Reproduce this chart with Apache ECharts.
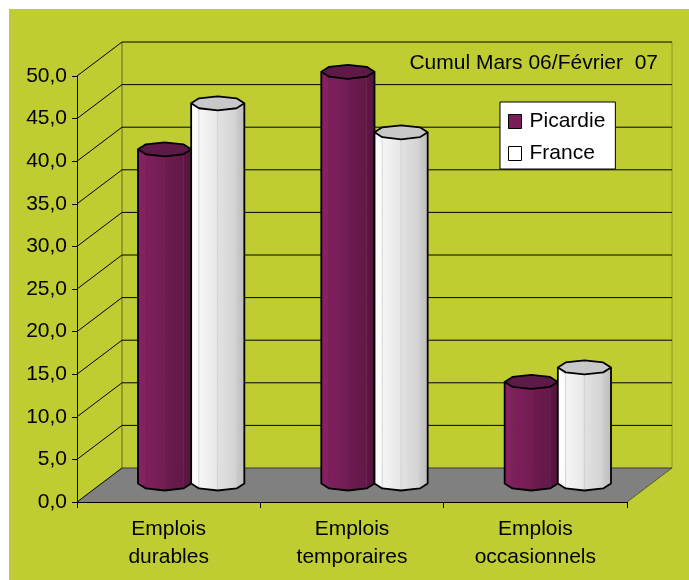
<!DOCTYPE html>
<html>
<head>
<meta charset="utf-8">
<script src="https://cdn.jsdelivr.net/npm/echarts@6/dist/echarts.min.js"></script>
<style>
html,body{margin:0;padding:0;background:#fff;}
#chart{width:689px;height:580px;}
</style>
</head>
<body>
<div id="chart"></div>
<script>
const categories = ['Emplois\ndurables', 'Emplois\ntemporaires', 'Emplois\noccasionnels'];
const seriesNames = ['Picardie', 'France'];
const picardie = [39.4, 48.5, 12.1];
const france = [44.8, 41.4, 13.8];
const yTickValues = [0, 5, 10, 15, 20, 25, 30, 35, 40, 45, 50];
const titleText = 'Cumul Mars 06/Février  07';

const FONT = "'Liberation Sans', Arial, sans-serif";
const DX = 45, DY = -34;   // depth of the 3D box
const BG = '#bfcd32';

const palettes = {
  Picardie: {
    faces: [['#8a2263', '#82205e'], ['#7e1f5b', '#731c54'], ['#6e1b51', '#641849'], ['#5e1644', '#56143e']],
    top: '#5e1a47',
    line: '#6a2450'
  },
  France: {
    faces: [['#ffffff', '#fbfbfb'], ['#f6f6f6', '#e6e6e6'], ['#e2e2e2', '#d2d2d2'], ['#cccccc', '#bdbdbd']],
    top: '#c8c8c8',
    line: '#d0d0d0'
  }
};

function makeBarRenderer(sign, pal) {
  return function (params, api) {
    const cat = api.value(0), val = api.value(1);
    const band = api.size([1, 0])[0];
    const r = band * 0.145;
    const ry = 7;
    const base = api.coord([cat, 0]);
    const top = api.coord([cat, val]);
    const cx = base[0] + DX * 0.5 + sign * r;
    const by = base[1] + DY * 0.5 - 1.5;
    const ty = top[1] + DY * 0.5;
    const pt = (t, y) => [cx - r * Math.cos(t), y + ry * Math.sin(t)];
    const children = [];
    for (let k = 0; k < 4; k++) {
      const t0 = k * Math.PI / 4, t1 = (k + 1) * Math.PI / 4;
      children.push({
        type: 'polygon',
        shape: { points: [pt(t0, ty), pt(t1, ty), pt(t1, by), pt(t0, by)] },
        style: {
          fill: new echarts.graphic.LinearGradient(0, 0, 1, 0, [
            { offset: 0, color: pal.faces[k][0] },
            { offset: 1, color: pal.faces[k][1] }
          ]),
          stroke: pal.line, lineWidth: 0.6
        }
      });
    }
    const outline = [pt(0, ty), pt(0, by), pt(Math.PI / 4, by), pt(Math.PI / 2, by),
      pt(3 * Math.PI / 4, by), pt(Math.PI, by), pt(Math.PI, ty)];
    children.push({
      type: 'polyline', shape: { points: outline },
      style: { fill: null, stroke: '#000', lineWidth: 1.8, lineJoin: 'round' }
    });
    const topPts = [];
    for (let k = 0; k < 8; k++) topPts.push(pt(k * Math.PI / 4, ty));
    children.push({
      type: 'polygon', shape: { points: topPts },
      style: { fill: pal.top, stroke: '#000', lineWidth: 1.8, lineJoin: 'round' }
    });
    return { type: 'group', children: children };
  };
}

function renderFrame(params, api) {
  const cs = params.coordSys;
  const x0 = cs.x, x1 = cs.x + cs.width, yb = cs.y + cs.height;
  const children = [];
  children.push({
    type: 'polygon',
    shape: { points: [[x0, yb], [x1, yb], [x1 + DX, yb + DY], [x0 + DX, yb + DY]] },
    style: { fill: '#808080', stroke: null }
  });
  const yTop = api.coord([0, yTickValues[yTickValues.length - 1]])[1];
  children.push({
    type: 'line', shape: { x1: x0 + DX, y1: yTop + DY, x2: x0 + DX, y2: yb + DY },
    style: { stroke: '#5f6a1c', lineWidth: 1 }
  });
  children.push({
    type: 'line', shape: { x1: x1 + DX, y1: yTop + DY, x2: x1 + DX, y2: yb + DY },
    style: { stroke: '#8c9a26', lineWidth: 1 }
  });
  children.push({
    type: 'line', shape: { x1: x1, y1: yb, x2: x1 + DX, y2: yb + DY },
    style: { stroke: '#5a6020', lineWidth: 1 }
  });
  yTickValues.forEach(function (v) {
    const y = api.coord([0, v])[1];
    children.push({
      type: 'line', shape: { x1: x0, y1: y, x2: x0 + DX, y2: y + DY },
      style: { stroke: '#000', lineWidth: 1 }
    });
    children.push({
      type: 'line', shape: { x1: x0 + DX, y1: y + DY, x2: x1 + DX, y2: y + DY },
      style: { stroke: v === 0 ? '#3a3a3a' : '#000', lineWidth: 1 }
    });
  });
  return { type: 'group', children: children };
}

const chart = echarts.init(document.getElementById('chart'), null, { renderer: 'canvas' });
chart.setOption({
  animation: false,
  backgroundColor: 'transparent',
  textStyle: { fontFamily: FONT },
  graphic: [{
    type: 'rect', z: -100, silent: true,
    shape: { x: 9, y: 9, width: 680, height: 571 },
    style: { fill: BG }
  }],
  title: {
    text: titleText, right: 31, top: 53, padding: 0,
    textStyle: { fontFamily: FONT, fontSize: 21, fontWeight: 'normal', color: '#000' }
  },
  legend: {
    orient: 'vertical', left: 500, top: 102,
    padding: [9, 10, 5, 8],
    itemWidth: 13, itemHeight: 14, itemGap: 11,
    backgroundColor: '#fff', borderColor: '#000', borderWidth: 1, borderRadius: 0,
    icon: 'rect',
    textStyle: { fontFamily: FONT, fontSize: 21, color: '#000', padding: [0, 0, 0, 3] },
    data: [
      { name: seriesNames[0], itemStyle: { color: '#7a1e58', borderColor: '#000', borderWidth: 1 } },
      { name: seriesNames[1], itemStyle: { color: '#ffffff', borderColor: '#000', borderWidth: 1 } }
    ]
  },
  grid: { left: 77, right: 62, top: 76, bottom: 78, containLabel: false },
  xAxis: {
    type: 'category', data: categories, z: 3,
    axisLine: { show: true, lineStyle: { color: '#000', width: 1 } },
    axisTick: { show: true, length: 6, interval: 0, lineStyle: { color: '#000' } },
    axisLabel: { interval: 0, margin: 13, fontFamily: FONT, fontSize: 21, lineHeight: 28, color: '#000' },
    splitLine: { show: false }
  },
  yAxis: {
    type: 'value', min: 0, max: 50, interval: 5, z: 3,
    axisLine: { show: true, lineStyle: { color: '#000', width: 1 } },
    axisTick: { show: true, length: 5, lineStyle: { color: '#000' } },
    axisLabel: {
      margin: 10, fontFamily: FONT, fontSize: 21, color: '#000',
      formatter: function (v) { return v.toFixed(1).replace('.', ','); }
    },
    splitLine: { show: false }
  },
  series: [
    {
      type: 'custom', name: '_frame', z: 1, silent: true, clip: false,
      renderItem: renderFrame, data: [[0, 0]]
    },
    {
      type: 'custom', name: seriesNames[0], z: 2, clip: false,
      itemStyle: { color: '#7a1e58' },
      renderItem: makeBarRenderer(-1, palettes.Picardie),
      data: picardie.map(function (v, i) { return [i, v]; })
    },
    {
      type: 'custom', name: seriesNames[1], z: 2, clip: false,
      itemStyle: { color: '#ffffff' },
      renderItem: makeBarRenderer(1, palettes.France),
      data: france.map(function (v, i) { return [i, v]; })
    }
  ]
});
</script>
</body>
</html>
